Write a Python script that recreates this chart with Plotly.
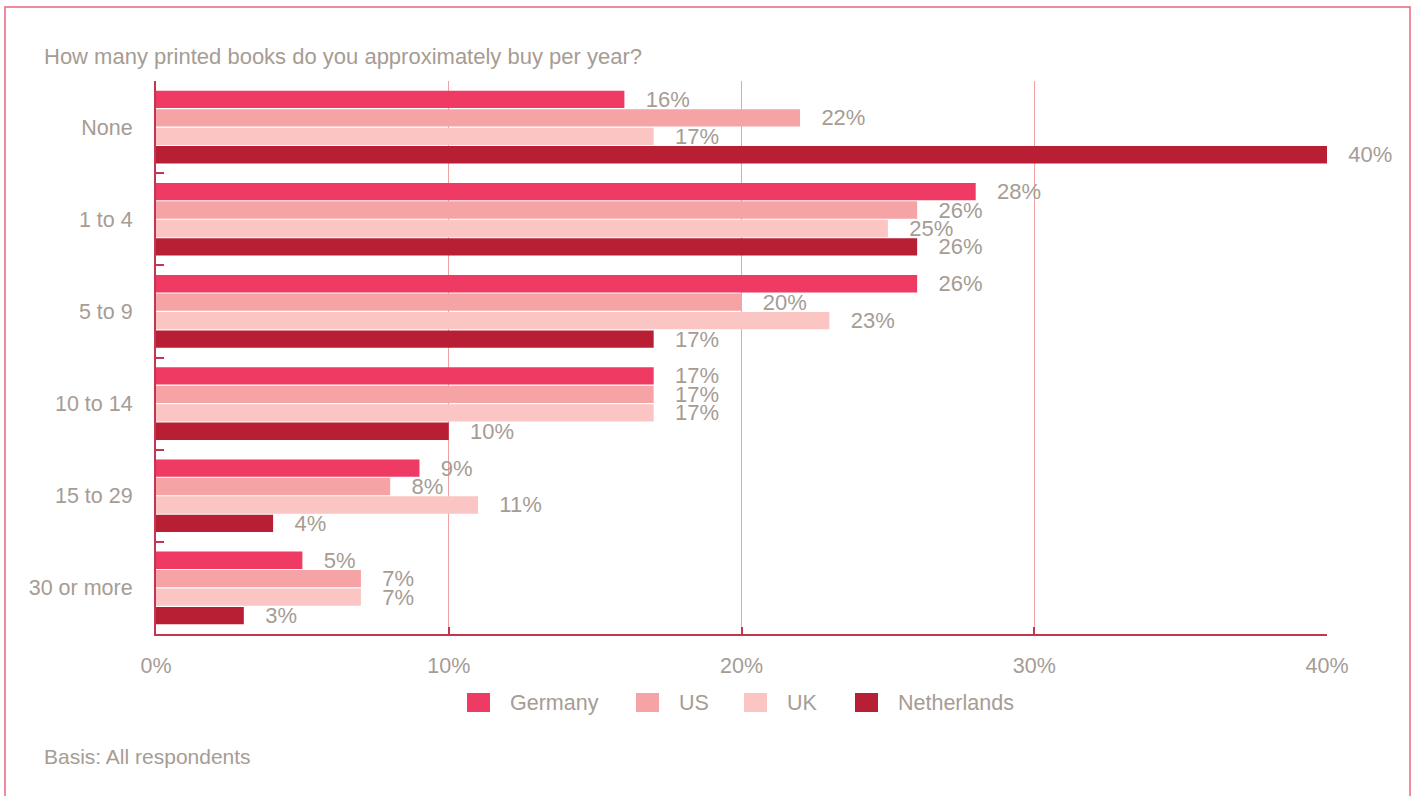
import plotly.graph_objects as go

# Survey data: share of respondents (%) per number of printed books bought per year
categories = ["None", "1 to 4", "5 to 9", "10 to 14", "15 to 29", "30 or more"]
germany = [16, 28, 26, 17, 9, 5]
us = [22, 26, 20, 17, 8, 7]
uk = [17, 25, 23, 17, 11, 7]
netherlands = [40, 26, 17, 10, 4, 3]

series_names = ["Germany", "US", "UK", "Netherlands"]
series_values = [germany, us, uk, netherlands]
series_colors = ["#ef3a63", "#f6a3a5", "#fbc5c4", "#b81f34"]

x_ticks = [0, 10, 20, 30, 40]
x_tick_labels = [f"{v}%" for v in x_ticks]

title_text = "How many printed books do you approximately buy per year?"
basis_text = "Basis: All respondents"

# Styling
FONT = "Liberation Sans, Arial, Helvetica, sans-serif"
GREY = "#a69c94"
CRIMSON = "#c2374f"
GRID = "#eea3a3"
FRAME = "#ea6580"

W, H = 1418, 796
ML, MR, MT, MB = 156, 91, 81, 162
PW, PH = W - ML - MR, H - MT - MB


def px(x):
    """Pixel x -> paper x."""
    return (x - ML) / PW


def py(y):
    """Pixel y (from top) -> paper y."""
    return (H - MB - y) / PH


fig = go.Figure()
for name, vals, color in zip(series_names, series_values, series_colors):
    fig.add_trace(go.Bar(
        y=categories,
        x=vals,
        orientation="h",
        name=name,
        marker=dict(color=color, line=dict(width=0)),
        text=[f"\u00a0\u00a0\u00a0{v}%" for v in vals],
        textposition="outside",
        textangle=0,
        constraintext="none",
        cliponaxis=False,
        textfont=dict(family=FONT, size=22, color=GREY),
        showlegend=False,
        hovertemplate="%{y}: %{x}%<extra>" + name + "</extra>",
    ))

shapes = [
    # outer frame
    dict(type="rect", xref="paper", yref="paper",
         x0=px(5), x1=px(1410), y0=py(810), y1=py(7),
         line=dict(color=FRAME, width=1.5), fillcolor="rgba(0,0,0,0)", layer="above"),
]
annotations = [
    dict(text=title_text, xref="paper", yref="paper", x=px(42), y=py(56),
         xanchor="left", yanchor="middle", showarrow=False,
         font=dict(family=FONT, size=22, color=GREY)),
    dict(text=basis_text, xref="paper", yref="paper", x=px(42), y=py(756),
         xanchor="left", yanchor="middle", showarrow=False,
         font=dict(family=FONT, size=21, color=GREY)),
]

# Legend drawn as square swatches with labels underneath the chart
legend_x = [467, 636, 744, 855]
for lx, name, color in zip(legend_x, series_names, series_colors):
    shapes.append(dict(type="rect", xref="paper", yref="paper",
                       x0=px(lx), x1=px(lx + 23), y0=py(712), y1=py(693),
                       line=dict(width=0), fillcolor=color))
    annotations.append(dict(text=name, xref="paper", yref="paper",
                            x=px(lx + 41), y=py(702.5), xanchor="left", yanchor="middle",
                            showarrow=False, font=dict(family=FONT, size=21.5, color=GREY)))

fig.update_layout(
    width=W, height=H,
    margin=dict(l=ML, r=MR, t=MT, b=MB),
    paper_bgcolor="white", plot_bgcolor="white",
    barmode="group", bargap=0.2, bargroupgap=0.06,
    font=dict(family=FONT, size=21, color=GREY),
    shapes=shapes,
    annotations=annotations,
    xaxis=dict(
        range=[0, 40], tickvals=x_ticks, ticktext=x_tick_labels,
        showgrid=True, gridcolor=GRID, gridwidth=1,
        zeroline=False,
        showline=True, linecolor=CRIMSON, linewidth=2,
        ticks="inside", ticklen=7, tickwidth=1.5, tickcolor=CRIMSON,
        tickfont=dict(family=FONT, size=21.5, color=GREY),
        ticklabelstandoff=11,
    ),
    yaxis=dict(
        type="category", categoryorder="array", categoryarray=categories,
        autorange="reversed",
        showgrid=False, zeroline=False,
        showline=True, linecolor=CRIMSON, linewidth=2,
        ticks="inside", tickson="boundaries", ticklen=8, tickwidth=2, tickcolor=CRIMSON,
        tickfont=dict(family=FONT, size=21.5, color=GREY),
        ticklabelstandoff=17,
    ),
    showlegend=False,
)

fig.write_html("out.html")
